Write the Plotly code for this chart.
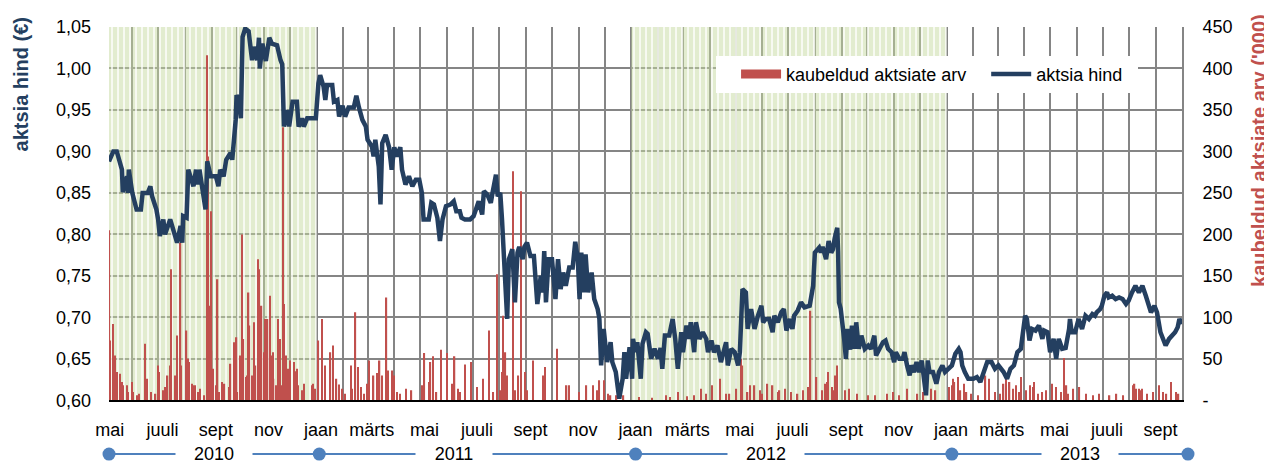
import pandas as pd
import plotly.graph_objects as go

# ---------------- data ----------------
price_dates = [
    "2010-05-05","2010-05-10","2010-05-14","2010-05-20","2010-05-21","2010-05-26","2010-05-27","2010-05-28",
    "2010-06-01","2010-06-06","2010-06-11","2010-06-13","2010-06-19","2010-06-22","2010-06-24","2010-06-29",
    "2010-07-01","2010-07-03","2010-07-07","2010-07-09","2010-07-15","2010-07-19","2010-07-23","2010-07-27","2010-07-29","2010-07-30",
    "2010-08-03","2010-08-05","2010-08-11","2010-08-14","2010-08-16","2010-08-18","2010-08-25","2010-08-27","2010-08-31",
    "2010-09-06","2010-09-09","2010-09-11","2010-09-15","2010-09-18","2010-09-23","2010-09-25","2010-09-27","2010-09-29","2010-09-30",
    "2010-10-03","2010-10-05","2010-10-07","2010-10-10","2010-10-14","2010-10-18","2010-10-20","2010-10-24","2010-10-26","2010-10-27","2010-10-30",
    "2010-11-03","2010-11-07","2010-11-10","2010-11-16","2010-11-20","2010-11-22","2010-11-24","2010-11-28","2010-11-30",
    "2010-12-04","2010-12-09","2010-12-11","2010-12-15","2010-12-17","2010-12-21","2010-12-31",
    "2011-01-03","2011-01-05","2011-01-09","2011-01-11","2011-01-13","2011-01-19","2011-01-21","2011-01-25","2011-01-27","2011-01-31",
    "2011-02-03","2011-02-07","2011-02-13","2011-02-16","2011-02-19","2011-02-23","2011-02-27",
    "2011-03-01","2011-03-06","2011-03-08","2011-03-10","2011-03-14","2011-03-16","2011-03-18","2011-03-22","2011-03-26","2011-03-29",
    "2011-04-01","2011-04-04","2011-04-08","2011-04-10","2011-04-14","2011-04-18","2011-04-22","2011-04-26","2011-04-30",
    "2011-05-03","2011-05-05","2011-05-11","2011-05-14","2011-05-17","2011-05-21","2011-05-24","2011-05-27","2011-05-31",
    "2011-06-05","2011-06-09","2011-06-12","2011-06-16","2011-06-18","2011-06-22","2011-06-28",
    "2011-07-02","2011-07-06","2011-07-08","2011-07-12","2011-07-14","2011-07-18","2011-07-22","2011-07-24","2011-07-28","2011-07-30",
    "2011-08-02","2011-08-04","2011-08-06","2011-08-08","2011-08-10","2011-08-12","2011-08-16","2011-08-19","2011-08-22","2011-08-24","2011-08-28","2011-08-30",
    "2011-09-02","2011-09-06","2011-09-10","2011-09-14","2011-09-18","2011-09-20","2011-09-22","2011-09-24","2011-09-27",
    "2011-10-01","2011-10-05","2011-10-08","2011-10-11","2011-10-14","2011-10-17","2011-10-21","2011-10-25","2011-10-28","2011-10-31",
    "2011-11-02","2011-11-04","2011-11-07","2011-11-09","2011-11-12","2011-11-16","2011-11-19","2011-11-23","2011-11-25","2011-11-27","2011-11-30",
    "2011-12-04","2011-12-08","2011-12-10","2011-12-14","2011-12-18","2011-12-22","2011-12-24","2011-12-26","2011-12-30",
    "2012-01-02","2012-01-03","2012-01-06","2012-01-08","2012-01-12","2012-01-14","2012-01-18","2012-01-20","2012-01-24","2012-01-28",
    "2012-02-01","2012-02-04","2012-02-06","2012-02-09","2012-02-14","2012-02-18","2012-02-21","2012-02-24","2012-02-28",
    "2012-03-01","2012-03-05","2012-03-08","2012-03-10","2012-03-14","2012-03-16","2012-03-20","2012-03-24","2012-03-28","2012-03-30",
    "2012-04-03","2012-04-06","2012-04-10","2012-04-14","2012-04-20","2012-04-22","2012-04-26","2012-04-30",
    "2012-05-04","2012-05-06","2012-05-09","2012-05-13","2012-05-15","2012-05-19","2012-05-23","2012-05-27","2012-05-31",
    "2012-06-02","2012-06-05","2012-06-09","2012-06-13","2012-06-15","2012-06-19","2012-06-23","2012-06-26","2012-06-29",
    "2012-07-03","2012-07-06","2012-07-08","2012-07-12","2012-07-16","2012-07-20","2012-07-26","2012-07-28","2012-07-30",
    "2012-08-01","2012-08-03","2012-08-06","2012-08-08","2012-08-10","2012-08-14","2012-08-17","2012-08-20","2012-08-22","2012-08-24","2012-08-27","2012-08-28","2012-08-29","2012-08-31",
    "2012-09-03","2012-09-04","2012-09-06","2012-09-08","2012-09-11","2012-09-13","2012-09-16","2012-09-18","2012-09-21","2012-09-24","2012-09-28",
    "2012-10-02","2012-10-05","2012-10-09","2012-10-11","2012-10-15","2012-10-19","2012-10-22","2012-10-25","2012-10-29",
    "2012-11-01","2012-11-03","2012-11-07","2012-11-11","2012-11-13","2012-11-16","2012-11-19","2012-11-21","2012-11-24","2012-11-27","2012-11-30",
    "2012-12-03","2012-12-05","2012-12-08","2012-12-10","2012-12-12","2012-12-16","2012-12-20","2012-12-23","2012-12-27","2012-12-30",
    "2013-01-03","2013-01-07","2013-01-11","2013-01-15","2013-01-17","2013-01-19","2013-01-22","2013-01-26",
    "2013-02-01","2013-02-05","2013-02-09","2013-02-13","2013-02-17","2013-02-22","2013-02-26",
    "2013-03-02","2013-03-08","2013-03-12","2013-03-16","2013-03-20","2013-03-24","2013-03-28","2013-03-30",
    "2013-04-02","2013-04-04","2013-04-07","2013-04-10","2013-04-14","2013-04-18","2013-04-22","2013-04-24","2013-04-28",
    "2013-05-01","2013-05-05","2013-05-08","2013-05-11","2013-05-15","2013-05-19","2013-05-23","2013-05-24","2013-05-26","2013-05-30",
    "2013-06-03","2013-06-07","2013-06-11","2013-06-15","2013-06-19","2013-06-22","2013-06-24","2013-06-28","2013-06-30",
    "2013-07-03","2013-07-06","2013-07-08","2013-07-12","2013-07-16","2013-07-20","2013-07-24","2013-07-28","2013-07-31",
    "2013-08-04","2013-08-08","2013-08-12","2013-08-16","2013-08-20","2013-08-24","2013-08-26","2013-08-30",
    "2013-09-02","2013-09-06","2013-09-10","2013-09-12","2013-09-16","2013-09-20","2013-09-23","2013-09-26","2013-09-28","2013-10-01",
]
price_vals = [
    0.888,0.900,0.900,0.878,0.851,0.870,0.850,0.878,
    0.850,0.830,0.830,0.850,0.850,0.858,0.846,0.830,
    0.818,0.798,0.818,0.800,0.818,0.802,0.790,0.810,0.790,0.822,
    0.820,0.878,0.858,0.878,0.860,0.878,0.830,0.888,0.870,
    0.870,0.858,0.878,0.870,0.890,0.898,0.890,0.914,0.938,0.968,
    0.960,0.940,1.038,1.048,1.045,1.010,1.026,1.010,1.037,1.000,1.030,
    1.009,1.037,1.030,1.028,1.010,1.005,0.930,0.950,0.930,
    0.960,0.960,0.930,0.940,0.930,0.940,0.940,
    0.982,0.992,0.978,0.962,0.980,0.980,0.960,0.962,0.942,0.955,
    0.942,0.953,0.953,0.967,0.953,0.938,0.930,
    0.914,0.906,0.894,0.914,0.882,0.836,0.910,0.920,0.905,0.878,
    0.905,0.894,0.905,0.878,0.860,0.870,0.858,0.866,0.866,
    0.850,0.818,0.818,0.838,0.836,0.820,0.792,0.818,0.834,
    0.836,0.840,0.828,0.828,0.820,0.818,0.818,
    0.822,0.834,0.840,0.824,0.852,0.848,0.838,0.850,0.872,0.846,
    0.850,0.818,0.778,0.750,0.698,0.770,0.782,0.718,0.778,0.785,0.770,0.785,
    0.790,0.774,0.774,0.716,0.750,0.730,0.780,0.718,0.770,
    0.770,0.722,0.770,0.734,0.754,0.738,0.760,0.760,0.791,0.770,
    0.722,0.778,0.730,0.776,0.730,0.754,0.722,0.710,0.698,0.642,0.686,
    0.646,0.670,0.646,0.634,0.602,0.626,0.658,0.626,0.664,
    0.626,0.674,0.658,0.670,0.626,0.668,0.682,0.680,0.650,0.662,
    0.650,0.663,0.638,0.678,0.678,0.698,0.674,0.638,0.682,
    0.658,0.690,0.674,0.694,0.658,0.694,0.674,0.682,0.674,0.658,
    0.672,0.658,0.666,0.646,0.670,0.642,0.662,0.658,
    0.642,0.658,0.734,0.730,0.686,0.710,0.686,0.702,0.714,
    0.694,0.698,0.698,0.682,0.702,0.694,0.706,0.710,0.684,
    0.698,0.686,0.702,0.708,0.718,0.712,0.714,0.726,0.738,
    0.778,0.780,0.784,0.778,0.785,0.770,0.792,0.778,0.782,0.795,0.808,0.778,0.718,0.710,
    0.686,0.674,0.650,0.686,0.661,0.690,0.662,0.694,0.662,0.678,0.662,
    0.666,0.662,0.678,0.654,0.662,0.670,0.672,0.662,0.658,
    0.646,0.658,0.650,0.650,0.658,0.642,0.630,0.642,0.634,0.646,0.634,
    0.648,0.634,0.606,0.648,0.634,0.634,0.620,0.634,0.642,0.634,
    0.638,0.642,0.656,0.662,0.658,0.642,0.634,0.626,
    0.626,0.628,0.622,0.634,0.646,0.646,0.638,
    0.642,0.634,0.626,0.638,0.642,0.658,0.662,0.682,
    0.702,0.698,0.672,0.686,0.684,0.690,0.674,0.684,0.682,
    0.658,0.674,0.650,0.674,0.662,0.663,0.686,0.698,0.682,0.682,
    0.698,0.686,0.702,0.698,0.704,0.702,0.706,0.710,0.714,
    0.726,0.730,0.724,0.726,0.722,0.724,0.722,0.716,0.720,
    0.730,0.738,0.730,0.738,0.726,0.714,0.706,0.714,
    0.706,0.682,0.670,0.666,0.674,0.678,0.682,0.688,0.698,0.692,
]

vol_dates_2010 = [
    "2010-05-05","2010-05-06","2010-05-10","2010-05-12","2010-05-14","2010-05-18","2010-05-20","2010-05-21","2010-05-26","2010-05-27",
    "2010-06-01","2010-06-02","2010-06-07","2010-06-09","2010-06-16","2010-06-18","2010-06-23","2010-06-28",
    "2010-07-01","2010-07-02","2010-07-07","2010-07-09","2010-07-12","2010-07-15","2010-07-16","2010-07-21","2010-07-23","2010-07-26","2010-07-27","2010-07-28",
    "2010-08-02","2010-08-03","2010-08-05","2010-08-06","2010-08-09","2010-08-11","2010-08-13","2010-08-17","2010-08-19","2010-08-23",
    "2010-08-27","2010-08-28","2010-08-29","2010-08-31",
    "2010-09-01","2010-09-03","2010-09-06","2010-09-08","2010-09-10","2010-09-13","2010-09-15","2010-09-16","2010-09-21","2010-09-23","2010-09-27","2010-09-29","2010-09-30",
    "2010-10-01","2010-10-04","2010-10-06","2010-10-08","2010-10-11","2010-10-12","2010-10-14","2010-10-15","2010-10-18","2010-10-20","2010-10-21","2010-10-22","2010-10-25","2010-10-26","2010-10-27","2010-10-29",
    "2010-11-01","2010-11-02","2010-11-04","2010-11-05","2010-11-08","2010-11-09","2010-11-11","2010-11-12","2010-11-15","2010-11-17","2010-11-19","2010-11-22","2010-11-23","2010-11-24","2010-11-26","2010-11-29",
    "2010-12-01","2010-12-06","2010-12-07","2010-12-09","2010-12-10","2010-12-15","2010-12-17","2010-12-27","2010-12-28","2010-12-30",
]
vol_vals_2010 = [
    205,72,92,54,34,32,22,18,18,10,
    22,10,6,8,68,26,10,8,
    42,34,12,16,30,42,158,30,78,18,190,42,
    26,84,50,46,20,18,18,10,14,6,
    416,294,114,228,
    60,38,18,146,10,22,6,20,16,44,70,62,76,
    10,54,200,74,28,30,130,90,30,94,34,42,170,158,38,114,
    58,98,30,98,126,54,58,26,18,98,74,18,329,116,54,38,
    48,46,35,38,18,12,20,18,20,14,
]
vol_dates_2011 = [
    "2011-01-03","2011-01-07","2011-01-11","2011-01-17","2011-01-20","2011-01-24","2011-01-27","2011-01-31",
    "2011-02-03","2011-02-10","2011-02-11","2011-02-15","2011-02-18","2011-02-21","2011-02-25",
    "2011-03-01","2011-03-03","2011-03-07","2011-03-08","2011-03-12","2011-03-15","2011-03-18","2011-03-23","2011-03-25","2011-03-30",
    "2011-04-01","2011-04-04","2011-04-08","2011-04-15","2011-04-21",
    "2011-05-03","2011-05-06","2011-05-12","2011-05-13","2011-05-16","2011-05-20","2011-05-25",
    "2011-06-01","2011-06-07","2011-06-10","2011-06-14","2011-06-16","2011-06-22","2011-06-29",
    "2011-07-06","2011-07-13","2011-07-20","2011-07-25","2011-07-29",
    "2011-08-02","2011-08-04","2011-08-05","2011-08-08","2011-08-10","2011-08-17","2011-08-19","2011-08-23","2011-08-26","2011-08-31",
    "2011-09-02","2011-09-09","2011-09-21","2011-09-23",
    "2011-10-07","2011-10-18","2011-10-21",
    "2011-11-01","2011-11-10","2011-11-18","2011-11-22","2011-11-25","2011-11-30",
    "2011-12-05","2011-12-08","2011-12-15","2011-12-23",
]
vol_vals_2011 = [
    72,98,42,58,66,26,19,14,
    8,42,14,106,40,16,8,
    20,48,29,30,33,48,30,124,36,36,
    30,10,8,14,12,
    18,57,22,46,53,10,61,
    57,20,53,14,10,43,46,
    16,26,84,10,152,
    12,34,102,58,30,276,12,30,252,34,
    12,48,30,40,
    62,18,18,
    10,18,18,12,24,24,
    8,6,6,6,
]
vol_dates_2012 = [
    "2012-01-10","2012-01-25","2012-02-10","2012-02-15","2012-02-24",
    "2012-03-06","2012-03-14","2012-03-22","2012-03-28",
    "2012-04-04","2012-04-13","2012-04-20","2012-04-24",
    "2012-05-02","2012-05-07","2012-05-09","2012-05-15","2012-05-18","2012-05-23","2012-05-29",
    "2012-06-01","2012-06-07","2012-06-13","2012-06-19","2012-06-21","2012-06-27",
    "2012-07-04","2012-07-12","2012-07-18","2012-07-24","2012-07-27",
    "2012-08-03","2012-08-09","2012-08-13","2012-08-15","2012-08-16","2012-08-21","2012-08-22","2012-08-24","2012-08-27",
    "2012-09-05","2012-09-10","2012-09-19",
    "2012-10-02","2012-10-10","2012-10-24","2012-10-31",
    "2012-11-07","2012-11-16","2012-11-28",
    "2012-12-05","2012-12-14","2012-12-19",
]
vol_vals_2012 = [
    4,3,6,4,10,
    5,6,14,8,
    18,26,8,8,
    14,50,42,10,18,18,12,
    8,20,18,10,12,14,
    10,8,12,16,108,
    28,12,20,22,34,16,12,30,42,
    12,14,8,
    6,6,8,10,
    6,14,8,
    10,14,12,
]
vol_dates_2013 = [
    "2013-01-04","2013-01-07","2013-01-08","2013-01-10","2013-01-14","2013-01-17","2013-01-21","2013-01-24","2013-01-29",
    "2013-02-06","2013-02-15","2013-02-19","2013-02-26",
    "2013-03-04","2013-03-08","2013-03-11","2013-03-14","2013-03-15","2013-03-19","2013-03-22","2013-03-26","2013-03-28",
    "2013-04-03","2013-04-08","2013-04-11","2013-04-12","2013-04-17","2013-04-22","2013-04-26",
    "2013-05-03","2013-05-08","2013-05-14","2013-05-17","2013-05-20","2013-05-22","2013-05-28",
    "2013-06-04","2013-06-12","2013-06-20","2013-06-27",
    "2013-07-09","2013-07-17","2013-07-25",
    "2013-08-05","2013-08-06","2013-08-07","2013-08-09","2013-08-12","2013-08-14","2013-08-16","2013-08-21","2013-08-28",
    "2013-09-04","2013-09-09","2013-09-13","2013-09-18","2013-09-24","2013-09-27",
]
vol_vals_2013 = [
    16,18,26,22,28,12,20,10,8,
    6,30,26,10,
    8,20,26,18,22,14,18,10,28,
    12,18,16,22,8,10,12,
    20,16,10,51,18,8,14,
    16,8,6,8,
    6,8,6,
    18,16,20,14,14,12,14,8,10,
    18,10,8,22,10,8,
]

shade_start = ["2010-05-05", "2012-01-01"]
shade_end = ["2011-01-01", "2013-01-01"]

x_range = ["2010-05-05", "2013-10-01"]
timeline_range = ["2010-05-05", "2013-10-08"]

month_tick_dates = [
    "2010-05-06","2010-07-06","2010-09-06","2010-11-06",
    "2011-01-06","2011-03-06","2011-05-06","2011-07-06","2011-09-06","2011-11-06",
    "2012-01-06","2012-03-06","2012-05-06","2012-07-06","2012-09-06","2012-11-06",
    "2013-01-06","2013-03-06","2013-05-06","2013-07-06","2013-09-06",
]
month_tick_labels = [
    "mai","juuli","sept","nov",
    "jaan","märts","mai","juuli","sept","nov",
    "jaan","märts","mai","juuli","sept","nov",
    "jaan","märts","mai","juuli","sept",
]
year_dot_dates = ["2010-05-05", "2011-01-04", "2012-01-06", "2013-01-07", "2013-10-08"]
year_label_dates = ["2010-09-04", "2011-06-09", "2012-06-05", "2013-06-05"]
year_labels = ["2010", "2011", "2012", "2013"]

price_ticks = [0.60, 0.65, 0.70, 0.75, 0.80, 0.85, 0.90, 0.95, 1.00, 1.05]
vol_tickvals = [0, 50, 100, 150, 200, 250, 300, 350, 400, 450]
vol_ticktext = ["-", "50", "100", "150", "200", "250", "300", "350", "400", "450"]

# ---------------- figure ----------------
FONT = "Liberation Sans, Arial, sans-serif"
RED = "#c0504d"
NAVY = "#243f60"
GRID = "#858585"
GREEN = "rgba(198,218,160,0.5)"
NBSP = "\u00a0"

vol_dates = vol_dates_2010 + vol_dates_2011 + vol_dates_2012 + vol_dates_2013
vol_vals = vol_vals_2010 + vol_vals_2011 + vol_vals_2012 + vol_vals_2013

DAY_MS = 86400000
shade_widths = [(pd.Timestamp(e) - pd.Timestamp(s)).total_seconds() * 1000
                for s, e in zip(shade_start, shade_end)]

fig = go.Figure()

# shaded years (green hatched bands) - base subplot, drawn first
fig.add_trace(go.Bar(
    x=shade_start, y=[1] * len(shade_start), width=shade_widths, offset=0,
    xaxis="x", yaxis="y",
    marker=dict(
        color=GREEN, line=dict(width=0),
        pattern=dict(shape="|", fillmode="overlay", bgcolor=GREEN,
                     fgcolor="white", fgopacity=0.8, size=6, solidity=0.3),
    ),
    showlegend=False, hoverinfo="skip",
))

# legend swatch for volume
fig.add_trace(go.Scatter(
    x=[None], y=[None], xaxis="x", yaxis="y", mode="lines", line=dict(color=RED, width=9),
    name="kaubeldud aktsiate arv" + NBSP * 3, legendgroup="vol", showlegend=True,
))

# traded volume (right axis)
fig.add_trace(go.Bar(
    x=vol_dates, y=vol_vals, xaxis="x", yaxis="y2",
    width=[1.5 * DAY_MS] * len(vol_dates),
    marker=dict(color=RED, line=dict(width=0)),
    name="kaubeldud aktsiate arv", legendgroup="vol", showlegend=False,
))

# share price (left axis)
fig.add_trace(go.Scatter(
    x=price_dates, y=price_vals, xaxis="x", yaxis="y4", mode="lines",
    line=dict(color=NAVY, width=4.5), name="aktsia hind" + NBSP * 2,
))

# year timeline below the axis
fig.add_trace(go.Scatter(
    x=year_dot_dates, y=[0] * len(year_dot_dates), xaxis="x2", yaxis="y3",
    mode="lines+markers", line=dict(color="#4f81bd", width=2),
    marker=dict(size=13, color="#4f81bd"), cliponaxis=False,
    showlegend=False, hoverinfo="skip",
))

annotations = []
for d, t in zip(year_label_dates, year_labels):
    annotations.append(dict(
        x=d, y=0, xref="x2", yref="y3", text=t, showarrow=False,
        xanchor="center", yanchor="middle",
        bgcolor="white", width=74, font=dict(size=18, color="black", family=FONT),
    ))
annotations.append(dict(
    x=-0.0818, y=0.867, xref="paper", yref="paper", text="<b>aktsia hind (€)</b>",
    xanchor="center", yanchor="middle",
    textangle=-90, showarrow=False, font=dict(size=20, color=NAVY, family=FONT),
))
annotations.append(dict(
    x=1.0663, y=0.7156, xref="paper", yref="paper", text="<b>kaubeldud aktsiate arv ('000)</b>",
    xanchor="center", yanchor="middle",
    textangle=-90, showarrow=False, font=dict(size=20, color=RED, family=FONT),
))

H = 463
main_bottom = (463 - 402) / 436
main_right = (1174 - 101) / 1079

fig.update_layout(
    width=1272, height=H,
    margin=dict(l=101, r=92, t=19, b=0),
    paper_bgcolor="white", plot_bgcolor="white",
    separators=", ",
    font=dict(family=FONT, size=18, color="black"),
    barmode="overlay",
    showlegend=True,
    legend=dict(orientation="h", x=0.5626, y=0.9335, xanchor="left", yanchor="top",
                bgcolor="white", font=dict(size=18, family=FONT, color="black"),
                itemwidth=40, borderwidth=0,
                title=dict(text=NBSP * 2, side="left", font=dict(size=18, family=FONT))),
    xaxis=dict(
        type="date", range=x_range, domain=[0, main_right], anchor="y",
        tickmode="array", tickvals=month_tick_dates, ticktext=month_tick_labels,
        showgrid=False, ticks="", ticklabelstandoff=12,
        showline=True, linecolor="black", linewidth=2, zeroline=False,
        minor=dict(tickmode="linear", tick0="2010-06-01", dtick="M1", showgrid=True,
                   gridcolor=GRID, gridwidth=2, ticks=""),
    ),
    xaxis2=dict(type="date", range=timeline_range, domain=[0, 1], anchor="y3",
                visible=False, showgrid=False),
    yaxis=dict(domain=[main_bottom, 1], range=[0, 1], visible=False, anchor="x",
               showgrid=False, zeroline=False),
    yaxis2=dict(
        overlaying="y", range=[0, 450], side="right", anchor="x",
        tickmode="array", tickvals=vol_tickvals, ticktext=vol_ticktext,
        showgrid=True, gridcolor=GRID, gridwidth=2,
        showline=True, linecolor=GRID, linewidth=2, ticks="", zeroline=False,
        ticklabelstandoff=15,
    ),
    yaxis3=dict(domain=[0, 0.0321], range=[-1, 1], visible=False, anchor="x2"),
    yaxis4=dict(
        overlaying="y", side="left", anchor="x", range=[0.60, 1.05],
        tickmode="array", tickvals=price_ticks, tickformat=".2f",
        showgrid=False, zeroline=False, ticks="", showline=False, ticklabelstandoff=17,
    ),
    annotations=annotations,
)

fig.write_html("out.html")
